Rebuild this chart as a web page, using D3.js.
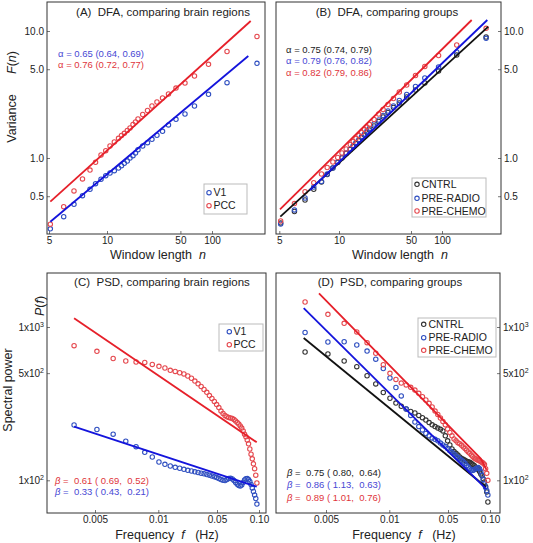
<!DOCTYPE html>
<html><head><meta charset="utf-8">
<script src="https://cdn.jsdelivr.net/npm/d3@7"></script>
<style>
body{margin:0;background:#fff}
svg text{font-family:"Liberation Sans",Arial,sans-serif}
</style></head><body>
<svg id="chart" width="533" height="543"></svg>
<script>
// ---------------- DATA ----------------
// DFA: window lengths (shared by panels A and B)
const windowLengths = [5.08, 5.96, 6.74, 7.46, 8.16, 8.72, 9.31, 9.85, 10.68, 11.74, 12.87, 13.74, 14.62, 15.61, 16.56, 17.68, 18.68, 19.73, 21.88, 24.3, 26.8, 29.9, 33.8, 38.5, 45.4, 55.3, 68.1, 92.6, 139, 268];
// Panel A
const dfaV1  = [0.277, 0.345, 0.432, 0.505, 0.567, 0.628, 0.680, 0.726, 0.762, 0.794, 0.834, 0.870, 0.908, 0.947, 1.0, 1.043, 1.095, 1.162, 1.243, 1.320, 1.403, 1.510, 1.623, 1.820, 2.017, 2.220, 2.566, 3.174, 3.917, 5.568];
const dfaPCC = [0.301, 0.4135, 0.550, 0.684, 0.804, 0.925, 1.056, 1.142, 1.243, 1.336, 1.429, 1.504, 1.565, 1.646, 1.722, 1.836, 1.921, 2.028, 2.200, 2.366, 2.566, 2.760, 2.968, 3.191, 3.556, 3.896, 4.422, 5.467, 6.896, 9.05];
const fitV1N = [5.08, 221.7],  fitV1F = [0.315, 6.36];
const fitPCCN = [5.08, 233.7], fitPCCF = [0.453, 11.99];
// Panel B
const dfaCNTRL = [0.308, 0.379, 0.467, 0.567, 0.647, 0.742, 0.834, 0.922, 1.0, 1.085, 1.167, 1.232, 1.301, 1.373, 1.450, 1.517, 1.588, 1.662, 1.786, 1.939, 2.103, 2.282, 2.498, 2.711, 3.022, 3.431, 3.896, 4.842, 6.471, 8.97];
const dfaRADIO = [0.302, 0.390, 0.484, 0.591, 0.653, 0.748, 0.834, 0.930, 1.009, 1.095, 1.177, 1.254, 1.324, 1.398, 1.476, 1.545, 1.632, 1.707, 1.852, 1.992, 2.161, 2.345, 2.567, 2.837, 3.162, 3.656, 4.266, 5.206, 6.833, 8.76];
const dfaCHEMO = [0.319, 0.438, 0.543, 0.639, 0.748, 0.842, 0.930, 1.009, 1.095, 1.177, 1.277, 1.349, 1.424, 1.504, 1.588, 1.676, 1.754, 1.836, 2.010, 2.221, 2.409, 2.638, 2.941, 3.309, 3.757, 4.462, 5.254, 6.413, 7.759, 10.5];
const fitCNTRLN = [5.06, 281.5], fitCNTRLF = [0.345, 10.81];
const fitRADION = [7.14, 275.3], fitRADIOF = [0.560, 12.21];
const fitCHEMON = [5.04, 194.2], fitCHEMOF = [0.3945, 12.21];

// PSD: frequencies (shared by panels C and D)
const frequencies = [0.003976, 0.005106, 0.0061, 0.007004, 0.007839, 0.008622, 0.009363, 0.01018, 0.01199, 0.01388, 0.01589, 0.01798, 0.02018, 0.02245, 0.0248, 0.02725, 0.02977, 0.03237, 0.03504, 0.03779, 0.04061, 0.0435, 0.04647, 0.0495, 0.05155, 0.0534, 0.05524, 0.05707, 0.0589, 0.06074, 0.06256, 0.06437, 0.0662, 0.068, 0.06981, 0.07162, 0.07341, 0.0752, 0.077, 0.07878, 0.08057, 0.08236, 0.08414, 0.08593, 0.0877, 0.08947, 0.09125, 0.09301, 0.09479, 0.09656];
// Panel C
const psdPCC = [755, 694, 623, 600, 591, 587, 570, 554, 540, 522, 513, 503, 494, 479, 463, 444, 426, 409, 391, 375, 357, 342, 327, 312, 298, 283, 273, 265, 260, 257, 255, 253, 249, 244, 238, 233, 226, 219, 210, 200, 192, 183, 173, 160, 148, 138, 128, 119, 108, 96];
const psdV1 = [229.5, 214.5, 199.8, 179.9, 165.6, 152.2, 141.9, 131.6, 127.2, 124.0, 121.6, 119.8, 118.0, 116.2, 115.0, 113.6, 112.4, 111.2, 110.2, 109.1, 108.0, 106.7, 105.4, 104.3, 102.7, 101.2, 100, 99.7, 101.2, 102.7, 103.0, 102.0, 99.7, 96.8, 94.2, 92.5, 91.8, 93.2, 96.8, 100.5, 102.3, 102.7, 101.2, 98.2, 93.9, 89.1, 84.5, 80.2, 76.1, 70.0];
const fitPsdV1F = [0.003976, 0.0963],  fitPsdV1P = [223.7, 90.8];
const fitPsdPCCF = [0.003976, 0.0963], fitPsdPCCP = [1139, 177];
// Panel D
const psdCNTRL = [687, 667, 600, 551, 481, 425, 374, 343, 319, 304, 292, 281, 275, 265, 256, 247, 238, 230, 224, 219, 215, 210, 195, 181, 170, 160, 154, 150, 146, 142, 139, 137, 135, 133, 132, 131, 129, 127, 125, 122, 120, 117, 114, 110, 107, 102, 97.5, 91.1, 83.9, 72.2];
const psdRADIO = [921, 798, 801, 763, 697, 617, 536, 465, 403, 355, 292, 265, 240, 224, 213, 202, 195, 189, 185, 181, 175, 170, 166, 161, 156, 152, 148, 144, 141, 138, 135, 132, 129, 125, 122, 119, 117, 116, 117, 119, 120, 121, 119, 114, 108, 101, 94.6, 89.8, 85.8, 80.2];
const psdCHEMO = [1456, 1210, 1057, 928, 790, 674, 568, 499, 455, 431, 419, 404, 388, 369, 351, 334, 318, 301, 283, 269, 255, 242, 230, 216, 205, 195, 186, 181, 176, 173, 169, 165, 161, 157, 153, 150, 146, 143, 140, 138, 136, 135, 134, 132, 131, 129, 127, 119, 111, 100];
const fitPsdCNTRLF = [0.003917, 0.0937], fitPsdCNTRLP = [848, 90.4];
const fitPsdRADIOF = [0.003917, 0.0937], fitPsdRADIOP = [1330, 87.8];
const fitPsdCHEMOF = [0.00463, 0.0862, 0.0944], fitPsdCHEMOP = [1659, 138, 117];

// ticks
const dfaXTicks = [5, 10, 50, 100];
const dfaXTickLabels = ["5", "10", "50", "100"];
const dfaYTicks = [0.5, 1, 5, 10];
const dfaYTickLabels = ["0.5", "1.0", "5.0", "10.0"];
const psdXTicks = [0.005, 0.01, 0.05, 0.1];
const psdXTickLabels = ["0.005", "0.01", "0.05", "0.10"];
const psdYTicks = [100, 500, 1000];
const psdYTickBase = ["1x10", "5x10", "1x10"];
const psdYTickSup = ["2", "2", "3"];

// texts
const titles = ["(A)  DFA, comparing brain regions", "(B)  DFA, comparing groups", "(C)  PSD, comparing brain regions", "(D)  PSD, comparing groups"];
const alphaA = ["\u03b1 = 0.65 (0.64, 0.69)", "\u03b1 = 0.76 (0.72, 0.77)"];
const alphaB = ["\u03b1 = 0.75 (0.74, 0.79)", "\u03b1 = 0.79 (0.76, 0.82)", "\u03b1 = 0.82 (0.79, 0.86)"];
const betaC = [" =  0.61 ( 0.69,  0.52)", " =  0.33 ( 0.43,  0.21)"];
const betaD = [" =  0.75 ( 0.80,  0.64)", " =  0.86 ( 1.13,  0.63)", " =  0.89 ( 1.01,  0.76)"];

// ---------------- STYLE ----------------
const COL = {
  bluePt: "#2f4fc0", redPt: "#e5484e", blackPt: "#333",
  blueLn: "#1414dc", redLn: "#e6202a", blackLn: "#111",
  blueTx: "#4848d4", redTx: "#e0353b", blackTx: "#222"
};
const FONT = "'Liberation Sans', Arial, sans-serif";
const svg = d3.select("#chart");

// ---------------- SCALES ----------------
const yDfa = d3.scaleLog().domain([1, 10]).range([158, 31]);
const xA = d3.scaleLog().domain([5, 10, 100]).range([49, 107, 212]);
const xB = d3.scaleLog().domain([5, 10, 100]).range([279.3, 339, 442]);
const yPsd = d3.scaleLog().domain([100, 1000]).range([480.3, 327]);
const xC = d3.scaleLog().domain([0.005, 0.01, 0.05, 0.1]).range([95, 158.3, 217, 259]);
const xD = d3.scaleLog().domain([0.005, 0.01, 0.05, 0.1]).range([326, 389.3, 448, 490]);

function drawPanel(c) {
  const [x0, y0, x1, y1] = c.box;
  const g = svg.append("g");
  const cid = "clip-" + c.id;
  g.append("clipPath").attr("id", cid).append("rect")
    .attr("x", x0).attr("y", y0).attr("width", x1 - x0).attr("height", y1 - y0);

  // x axis
  const ax = g.append("g").attr("transform", `translate(0,${y1})`)
    .call(d3.axisBottom(c.x).tickValues(c.xTicks).tickFormat((d, i) => c.xTickLabels[i]).tickSize(-3).tickPadding(3));
  // y axis
  const yg = c.ySide === "left" ? d3.axisLeft(c.y) : d3.axisRight(c.y);
  const ay = g.append("g").attr("transform", `translate(${c.ySide === "left" ? x0 : x1},0)`)
    .call(yg.tickValues(c.yTicks).tickFormat(() => "").tickSize(-3).tickPadding(3));
  ay.selectAll(".tick text").each(function (d, i) {
    const t = d3.select(this);
    t.text(null);
    t.append("tspan").text(c.yTickBase[i]);
    if (c.yTickSup) t.append("tspan").attr("dy", -4).attr("font-size", 7).text(c.yTickSup[i]);
  });
  [ax, ay].forEach(a => {
    a.attr("font-family", FONT).attr("font-size", 10);
    a.select(".domain").remove();
    a.selectAll(".tick line").attr("stroke", "#777");
    a.selectAll(".tick text").attr("fill", "#222");
  });

  const plot = g.append("g").attr("clip-path", `url(#${cid})`);
  // points
  c.series.forEach(s => {
    plot.append("g").selectAll("circle")
      .data(s.vals.map((v, i) => [c.xVals[i], v]))
      .join("circle")
      .attr("cx", d => c.x(d[0])).attr("cy", d => c.y(d[1]))
      .attr("r", 2.2).attr("fill", "none")
      .attr("stroke", s.color).attr("stroke-width", 1.1);
  });
  // fitted lines
  const line = d3.line().x(d => c.x(d[0])).y(d => c.y(d[1]));
  c.fits.forEach(f => {
    plot.append("path").attr("d", line(f.xs.map((v, i) => [v, f.ys[i]])))
      .attr("fill", "none").attr("stroke", f.color).attr("stroke-width", 1.8);
  });
  // frame
  g.append("rect").attr("x", x0).attr("y", y0).attr("width", x1 - x0).attr("height", y1 - y0)
    .attr("fill", "none").attr("stroke", "#333").attr("stroke-width", 1);
  // title
  g.append("text").attr("x", c.titleX).attr("y", c.titleY).attr("text-anchor", "middle")
    .attr("font-size", 11.5).attr("fill", "#222").style("white-space", "pre").text(c.title);
}

function legend(box, entries, ys, mx, tx) {
  const g = svg.append("g");
  g.append("rect").attr("x", box[0]).attr("y", box[1]).attr("width", box[2] - box[0]).attr("height", box[3] - box[1])
    .attr("fill", "#fff").attr("stroke", "#bbb").attr("stroke-width", 1);
  entries.forEach((e, i) => {
    g.append("circle").attr("cx", mx).attr("cy", ys[i]).attr("r", 2.2).attr("fill", "none")
      .attr("stroke", e.color).attr("stroke-width", 1.1);
    g.append("text").attr("x", tx).attr("y", ys[i] + 3.6).attr("font-size", 10.5).attr("fill", "#222").text(e.label);
  });
}

function annot(x, y, str, color, italicBeta) {
  const t = svg.append("text").attr("x", x).attr("y", y).attr("font-size", 9.5).attr("fill", color).style("white-space", "pre");
  if (italicBeta) {
    t.append("tspan").attr("font-style", "italic").text("\u03b2");
    t.append("tspan").text(str);
  } else t.text(str);
}

// ---------------- PANEL A ----------------
drawPanel({
  id: "A", box: [47, 2, 265, 234], x: xA, y: yDfa, xVals: windowLengths,
  xTicks: dfaXTicks, xTickLabels: dfaXTickLabels, yTicks: dfaYTicks, yTickBase: dfaYTickLabels, ySide: "left",
  series: [{ vals: dfaV1, color: COL.bluePt }, { vals: dfaPCC, color: COL.redPt }],
  fits: [{ xs: fitV1N, ys: fitV1F, color: COL.blueLn }, { xs: fitPCCN, ys: fitPCCF, color: COL.redLn }],
  title: titles[0], titleX: 163, titleY: 16
});
// ---------------- PANEL B ----------------
drawPanel({
  id: "B", box: [276, 2, 501, 234], x: xB, y: yDfa, xVals: windowLengths,
  xTicks: dfaXTicks, xTickLabels: dfaXTickLabels, yTicks: dfaYTicks, yTickBase: dfaYTickLabels, ySide: "right",
  series: [{ vals: dfaCNTRL, color: COL.blackPt }, { vals: dfaRADIO, color: COL.bluePt }, { vals: dfaCHEMO, color: COL.redPt }],
  fits: [{ xs: fitCNTRLN, ys: fitCNTRLF, color: COL.blackLn }, { xs: fitRADION, ys: fitRADIOF, color: COL.blueLn }, { xs: fitCHEMON, ys: fitCHEMOF, color: COL.redLn }],
  title: titles[1], titleX: 387, titleY: 16
});
// ---------------- PANEL C ----------------
drawPanel({
  id: "C", box: [47, 273, 266, 513], x: xC, y: yPsd, xVals: frequencies,
  xTicks: psdXTicks, xTickLabels: psdXTickLabels, yTicks: psdYTicks, yTickBase: psdYTickBase, yTickSup: psdYTickSup, ySide: "left",
  series: [{ vals: psdV1, color: COL.bluePt }, { vals: psdPCC, color: COL.redPt }],
  fits: [{ xs: fitPsdV1F, ys: fitPsdV1P, color: COL.blueLn }, { xs: fitPsdPCCF, ys: fitPsdPCCP, color: COL.redLn }],
  title: titles[2], titleX: 162, titleY: 286
});
// ---------------- PANEL D ----------------
drawPanel({
  id: "D", box: [276, 273, 500, 513], x: xD, y: yPsd, xVals: frequencies,
  xTicks: psdXTicks, xTickLabels: psdXTickLabels, yTicks: psdYTicks, yTickBase: psdYTickBase, yTickSup: psdYTickSup, ySide: "right",
  series: [{ vals: psdCNTRL, color: COL.blackPt }, { vals: psdRADIO, color: COL.bluePt }, { vals: psdCHEMO, color: COL.redPt }],
  fits: [{ xs: fitPsdCNTRLF, ys: fitPsdCNTRLP, color: COL.blackLn }, { xs: fitPsdRADIOF, ys: fitPsdRADIOP, color: COL.blueLn }, { xs: fitPsdCHEMOF, ys: fitPsdCHEMOP, color: COL.redLn }],
  title: titles[3], titleX: 390, titleY: 286
});

// legends
legend([204, 184, 247, 214], [{ label: "V1", color: COL.bluePt }, { label: "PCC", color: COL.redPt }], [192.7, 205.7], 209, 213.5);
legend([412, 178, 486, 217], [{ label: "CNTRL", color: COL.blackPt }, { label: "PRE-RADIO", color: COL.bluePt }, { label: "PRE-CHEMO", color: COL.redPt }], [184.3, 198.3, 211], 417, 421.5);
legend([219, 324, 263, 351], [{ label: "V1", color: COL.bluePt }, { label: "PCC", color: COL.redPt }], [331.7, 344.7], 229.3, 233.5);
legend([418, 318, 496, 357], [{ label: "CNTRL", color: COL.blackPt }, { label: "PRE-RADIO", color: COL.bluePt }, { label: "PRE-CHEMO", color: COL.redPt }], [324.3, 337.7, 350.3], 423.7, 428.5);

// annotations
annot(58, 56.5, alphaA[0], COL.blueTx);
annot(58, 68, alphaA[1], COL.redTx);
annot(286, 52.5, alphaB[0], COL.blackTx);
annot(286, 64, alphaB[1], COL.blueTx);
annot(286, 75.5, alphaB[2], COL.redTx);
annot(55, 483.5, betaC[0], COL.redTx, true);
annot(55, 494.5, betaC[1], COL.blueTx, true);
annot(287, 476, betaD[0], COL.blackTx, true);
annot(287, 488, betaD[1], COL.blueTx, true);
annot(287, 500.5, betaD[2], COL.redTx, true);

// axis labels
function xLabel(cx, y, main, ital, tail) {
  const t = svg.append("text").attr("x", cx).attr("y", y).attr("text-anchor", "middle").attr("font-size", 12.5).attr("fill", "#222").style("white-space", "pre");
  t.append("tspan").text(main);
  t.append("tspan").attr("font-style", "italic").text(ital);
  if (tail) t.append("tspan").text(tail);
}
xLabel(158, 259, "Window length  ", "n");
xLabel(400, 259, "Window length  ", "n");
xLabel(167, 539, "Frequency  ", "f", "   (Hz)");
xLabel(404, 539, "Frequency  ", "f", "   (Hz)");

function yLabel(x, cy, parts) {
  const t = svg.append("text").attr("transform", `translate(${x},${cy}) rotate(-90)`).attr("text-anchor", "middle")
    .attr("font-size", 12.5).attr("fill", "#222");
  parts.forEach(p => t.append("tspan").attr("font-style", p[1] ? "italic" : null).text(p[0]));
}
yLabel(15.5, 118.5, [["Variance", false]]);
yLabel(15.5, 62.5, [["F", true], ["(", false], ["n", true], [")", false]]);
yLabel(12, 390, [["Spectral power", false]]);
yLabel(44, 306, [["P", true], ["(", false], ["f", true], [")", false]]);
</script></body></html>
